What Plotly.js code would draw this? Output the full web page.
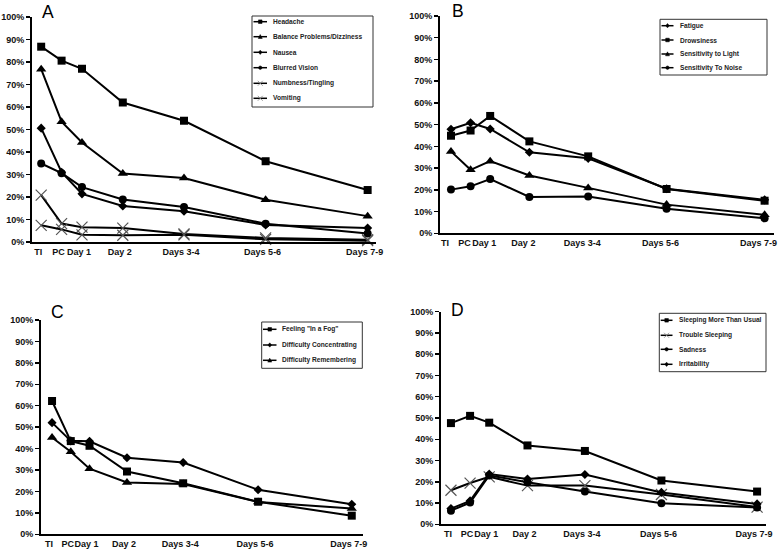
<!DOCTYPE html>
<html>
<head>
<meta charset="utf-8">
<script src="https://cdn.plot.ly/plotly-3.0.1.min.js"></script>
<style>html,body{margin:0;padding:0;background:#fff;}#chart{width:778px;height:551px;}</style>
</head>
<body>
<div id="chart"></div>
<script>
// ---- data ----
const timeDays = [0, 1, 2, 4, 7, 11, 16];
const tickLabels = ['TI', 'PC', 'Day 1', 'Day 2', 'Days 3-4', 'Days 5-6', 'Days 7-9'];

// Panel A
const headache   = [86.8, 80.6, 77.0, 62.0, 53.9, 35.9, 23.1];
const balance    = [76.8, 53.5, 44.2, 30.4, 28.4, 18.8, 11.5];
const nausea     = [50.6, 31.0, 21.4, 16.0, 13.7, 7.6, 6.2];
const blurred    = [34.9, 30.6, 24.4, 18.9, 15.6, 8.1, 3.8];
const numbness   = [20.8, 8.2, 6.6, 6.2, 3.6, 1.8, 1.0];
const vomiting   = [7.4, 5.6, 3.2, 3.0, 3.2, 1.2, 0.6];
// Panel B
const fatigue    = [47.9, 50.9, 48.0, 37.3, 34.5, 20.5, 15.4];
const drowsiness = [44.9, 47.3, 54.0, 42.3, 35.4, 20.4, 15.0];
const sensLight  = [37.7, 29.2, 33.2, 26.6, 20.9, 13.2, 8.5];
const sensNoise  = [20.1, 21.6, 25.0, 16.7, 16.9, 11.3, 6.9];
// Panel C
const fog          = [62.2, 43.5, 41.3, 29.3, 23.8, 15.2, 8.7];
const concentrating= [52.1, 43.6, 43.4, 35.7, 33.5, 20.8, 14.0];
const remembering  = [45.2, 38.5, 30.6, 24.2, 23.5, 15.1, 12.0];
// Panel D
const sleepingMore   = [47.6, 51.0, 47.8, 37.1, 34.5, 20.6, 15.4];
const troubleSleeping= [16.0, 19.4, 22.3, 18.2, 18.2, 14.0, 8.1];
const sadness        = [6.4, 10.2, 23.0, 19.8, 15.4, 9.9, 7.9];
const irritability   = [7.4, 11.0, 23.6, 21.3, 23.4, 15.0, 9.6];

const namesA = ['Headache', 'Balance Problems/Dizziness', 'Nausea', 'Blurred Vision', 'Numbness/Tingling', 'Vomiting'];
const namesB = ['Fatigue', 'Drowsiness', 'Sensitivity to Light', 'Sensitivity To Noise'];
const namesC = ['Feeling "In a Fog"', 'Difficulty Concentrating', 'Difficulty Remembering'];
const namesD = ['Sleeping More Than Usual', 'Trouble Sleeping', 'Sadness', 'Irritability'];
const panelLetters = ['A', 'B', 'C', 'D'];

// ---- styling / layout ----
const W = 778, H = 551;
const FONT = 'Liberation Sans, Arial, Helvetica, sans-serif';
const px = x => x / W;
const py = y => 1 - y / H;

const symStyle = {
  square:   {symbol: 'square', size: 8, color: '#000'},
  triangle: {symbol: 'triangle-up', size: 9, color: '#000'},
  diamond:  {symbol: 'diamond', size: 7, color: '#000'},
  circle:   {symbol: 'circle', size: 8, color: '#000'},
  x:        {symbol: 'x-thin-open', size: 11, color: '#555', line: {color: '#555', width: 1.2}}
};

const panels = [
  {series: [headache, balance, nausea, blurred, numbness, vomiting], names: namesA,
   syms: ['square', 'triangle', 'diamond', 'circle', 'x', 'x'],
   xr: [-0.45, 16.4], dom: [32, 375.8, 17, 242], lshift: -3,
   legend: {box: [252, 16, 373, 107], rows: [21.7, 36.7, 52.3, 67.7, 83.3, 98.3], s0: 253.5, s1: 267, tx: 271},
   letter: [48.3, 11]},
  {series: [fatigue, drowsiness, sensLight, sensNoise], names: namesB,
   syms: ['diamond', 'square', 'triangle', 'circle'],
   xr: [-0.56, 16.5], dom: [440, 774.4, 16, 233.3], lshift: -6,
   legend: {box: [660, 19.3, 767, 75], rows: [25.7, 40, 54, 67.7], s0: 661.5, s1: 673.5, tx: 678},
   letter: [458, 9.7]},
  {series: [fog, concentrating, remembering], names: namesC,
   syms: ['square', 'diamond', 'triangle'],
   xr: [-0.59, 16.6], dom: [41, 363, 320, 534.3], lshift: -3,
   legend: {box: [261.7, 322, 362.3, 368.3], rows: [329.3, 345, 360.3], s0: 263, s1: 276.5, tx: 280},
   letter: [57.8, 311]},
  {series: [sleepingMore, troubleSleeping, sadness, irritability], names: namesD,
   syms: ['square', 'x', 'circle', 'diamond'],
   xr: [-0.52, 16.45], dom: [441, 765.7, 311.7, 524.3], lshift: -3,
   legend: {box: [659.3, 313.3, 766, 371.7], rows: [320.3, 335.3, 349.3, 364.3], s0: 660.7, s1: 672.5, tx: 676.5},
   letter: [457.3, 309.3]}
];

const traces = [];
const shapes = [];
const annotations = [];
const layout = {
  width: W, height: H,
  margin: {l: 0, r: 0, t: 0, b: 0},
  paper_bgcolor: '#fff', plot_bgcolor: '#fff',
  showlegend: false,
  font: {family: FONT, color: '#111'}
};

function markerPath(sym, cx, cy, r) {
  const P = (x, y) => px(x).toFixed(5) + ',' + py(y).toFixed(5);
  if (sym === 'square') return 'M' + P(cx - r, cy - r) + 'L' + P(cx + r, cy - r) + 'L' + P(cx + r, cy + r) + 'L' + P(cx - r, cy + r) + 'Z';
  if (sym === 'triangle') return 'M' + P(cx, cy - r * 1.2) + 'L' + P(cx + r * 1.1, cy + r) + 'L' + P(cx - r * 1.1, cy + r) + 'Z';
  if (sym === 'diamond') return 'M' + P(cx, cy - r * 1.2) + 'L' + P(cx + r, cy) + 'L' + P(cx, cy + r * 1.2) + 'L' + P(cx - r, cy) + 'Z';
  if (sym === 'circle') return 'M' + P(cx - r, cy) + 'L' + P(cx - r * 0.7, cy - r * 0.7) + 'L' + P(cx, cy - r) + 'L' + P(cx + r * 0.7, cy - r * 0.7) + 'L' + P(cx + r, cy) + 'L' + P(cx + r * 0.7, cy + r * 0.7) + 'L' + P(cx, cy + r) + 'L' + P(cx - r * 0.7, cy + r * 0.7) + 'Z';
  return null;
}

panels.forEach((p, i) => {
  const k = i === 0 ? '' : String(i + 1);
  const xa = 'x' + k, ya = 'y' + k;
  const [x0, x1, yTop, yBot] = p.dom;
  layout['xaxis' + k] = {
    domain: [px(x0), px(x1)], range: p.xr, anchor: ya,
    tickmode: 'array', tickvals: timeDays, ticktext: tickLabels, tickangle: 0,
    ticklabeloverflow: 'allow', ticklabelshift: p.lshift,
    ticks: '', showline: true, linewidth: 2, linecolor: '#000',
    showgrid: false, zeroline: false, automargin: false, fixedrange: true,
    tickfont: {family: FONT, size: 9, color: '#111', weight: 'bold'}
  };
  layout['yaxis' + k] = {
    domain: [py(yBot), py(yTop)], range: [0, 100], anchor: xa,
    tick0: 0, dtick: 10, ticksuffix: '%',
    ticks: 'outside', ticklen: 4, tickwidth: 1.5, tickcolor: '#000',
    showline: true, linewidth: 2, linecolor: '#000',
    showgrid: false, zeroline: false, automargin: false, fixedrange: true,
    tickfont: {family: FONT, size: 9, color: '#111', weight: 'bold'}
  };
  p.series.forEach((ys, j) => {
    const st = symStyle[p.syms[j]];
    traces.push({
      type: 'scatter', mode: 'lines+markers', name: p.names[j],
      x: timeDays, y: ys, xaxis: xa, yaxis: ya, cliponaxis: false,
      line: {color: '#000', width: 2},
      marker: Object.assign({}, st)
    });
  });
  // legend box
  const L = p.legend;
  shapes.push({type: 'rect', xref: 'paper', yref: 'paper',
    x0: px(L.box[0]), x1: px(L.box[2]), y0: py(L.box[3]), y1: py(L.box[1]),
    line: {color: '#333', width: 1}, fillcolor: 'rgba(255,255,255,0)'});
  L.rows.forEach((ry, j) => {
    shapes.push({type: 'line', xref: 'paper', yref: 'paper',
      x0: px(L.s0), x1: px(L.s1), y0: py(ry), y1: py(ry),
      line: {color: '#000', width: 1.5}});
    const sym = p.syms[j];
    const cx = (L.s0 + L.s1) / 2;
    const path = markerPath(sym, cx, ry, 1.8);
    if (path) {
      shapes.push({type: 'path', xref: 'paper', yref: 'paper', path: path,
        fillcolor: '#000', line: {color: '#000', width: 0.5}});
    } else if (sym === 'x') {
      shapes.push({type: 'line', xref: 'paper', yref: 'paper',
        x0: px(cx - 2.5), x1: px(cx + 2.5), y0: py(ry - 2.5), y1: py(ry + 2.5), line: {color: '#888', width: 0.8}});
      shapes.push({type: 'line', xref: 'paper', yref: 'paper',
        x0: px(cx - 2.5), x1: px(cx + 2.5), y0: py(ry + 2.5), y1: py(ry - 2.5), line: {color: '#888', width: 0.8}});
    }
    annotations.push({xref: 'paper', yref: 'paper', x: px(L.tx), y: py(ry),
      xanchor: 'left', yanchor: 'middle', showarrow: false, text: p.names[j],
      font: {family: FONT, size: 6.6, color: '#222', weight: 'bold'}});
  });
  annotations.push({xref: 'paper', yref: 'paper', x: px(p.letter[0]), y: py(p.letter[1] + 1),
    xanchor: 'center', yanchor: 'middle', showarrow: false, text: panelLetters[i],
    font: {family: FONT, size: 17.5, color: '#000'}});
});

layout.shapes = shapes;
layout.annotations = annotations;

Plotly.newPlot('chart', traces, layout, {displayModeBar: false, staticPlot: true});
</script>
</body>
</html>
